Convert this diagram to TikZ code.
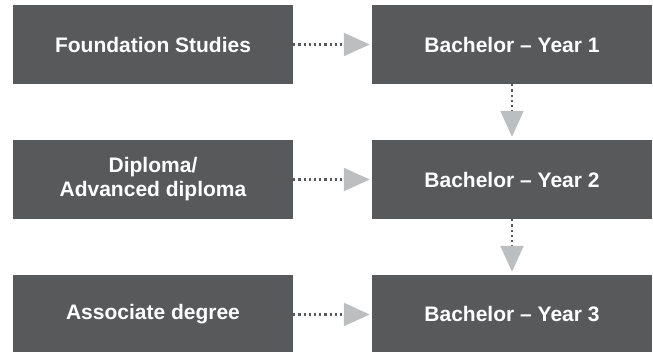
\documentclass[tikz,border=0pt]{standalone}
\usepackage{fontspec}
\setmainfont{Liberation Sans}
\usetikzlibrary{arrows.meta}
\definecolor{boxgray}{HTML}{58595B}
\definecolor{tipgray}{HTML}{BCBEC0}

\begin{document}
\begin{tikzpicture}[x=1pt, y=-1pt,
    box/.style={fill=boxgray, text=white, minimum width=280pt, minimum height=79pt,
        inner sep=0pt, align=center, font=\fontsize{21}{24}\selectfont\bfseries},
    link/.style={draw=boxgray, line width=2.1pt, dash pattern=on 2.1pt off 3.1pt,
        -{Triangle[length=26pt, width=23pt, color=tipgray]}, shorten >=2pt}]

    \useasboundingbox (0,0) rectangle (653,351);

    % Entry routes
    \node[box] (found) at (153,44.5) {Foundation Studies};
    \node[box] (dipl) at (153,179.5) {Diploma/\\Advanced diploma};
    \node[box] (assoc) at (153,314.5) {Associate degree};

    % Bachelor years
    \node[box] (yearone) at (512,44.5) {Bachelor -- Year 1};
    \node[box] (yeartwo) at (512,179.5) {Bachelor -- Year 2};
    \node[box] (yearthree) at (512,314.5) {Bachelor -- Year 3};

    % Dotted arrows
    \draw[link] (found) -- (yearone);
    \draw[link] (dipl) -- (yeartwo);
    \draw[link] (assoc) -- (yearthree);
    \draw[link, shorten >=3pt] (yearone) -- (yeartwo);
    \draw[link, shorten >=3pt] (yeartwo) -- (yearthree);

\end{tikzpicture}
\end{document}
